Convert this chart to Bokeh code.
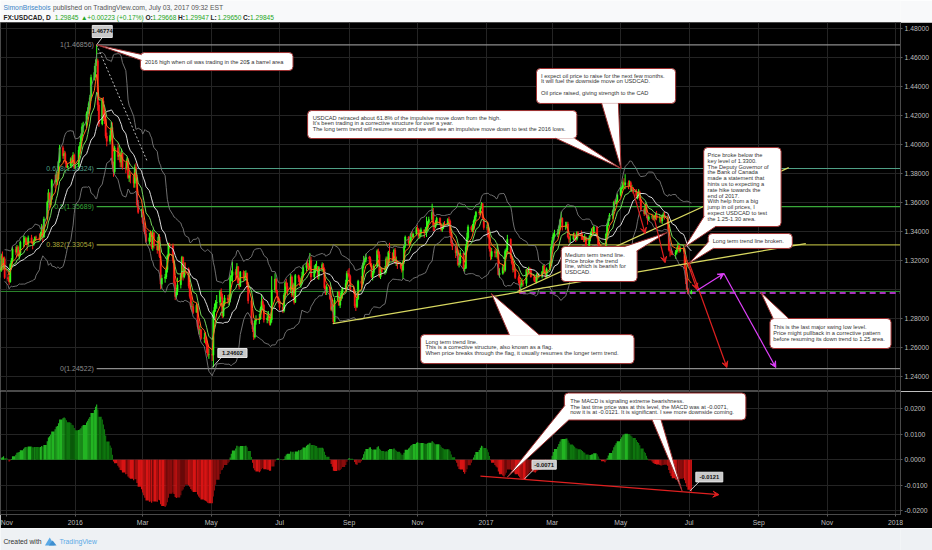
import numpy as np
import pandas as pd
from bokeh.plotting import figure
from bokeh.layouts import column
from bokeh.models import (Range1d, FixedTicker, NumeralTickFormatter, Label,
                          Arrow, VeeHead, ColumnDataSource)
from bokeh.core.properties import value
from bokeh.embed import file_html
from bokeh.resources import INLINE

FONT = "Liberation Sans"

# ---------------- data (FX:USDCAD daily, values are pips: 1 + v/10000) ----------------
first_session = "2015-10-26"
chart_origin = "2016-01-01"

close_2015 = [
    3130, 3230, 3170, 3210, 3080,
    3070, 3050, 3170, 3195, 3275, 3255, 3290, 3230, 3245, 3325, 3325, 3350, 3315, 3310, 3355,
    3325, 3310, 3335, 3360, 3355, 3350,
    3375, 3430, 3360, 3485, 3600, 3665, 3580, 3620, 3750, 3740, 3790, 3760, 3880, 3975,
    3920, 3935, 3880, 3845, 3850, 3900, 3870, 3925, 3840,
]
high_2015 = [
    3155, 3245, 3260, 3220, 3225,
    3105, 3090, 3180, 3215, 3290, 3295, 3305, 3300, 3270, 3335, 3370, 3365, 3360, 3330, 3370,
    3375, 3330, 3345, 3365, 3370, 3385,
    3395, 3450, 3440, 3500, 3610, 3690, 3665, 3640, 3760, 3790, 3815, 3810, 3890, 3995,
    3990, 3955, 3950, 3885, 3865, 3910, 3920, 3945, 3935,
]
low_2015 = [
    3080, 3120, 3130, 3135, 3070,
    3055, 3030, 3045, 3140, 3185, 3235, 3240, 3220, 3205, 3230, 3290, 3310, 3305, 3265, 3300,
    3315, 3275, 3300, 3330, 3335, 3335,
    3340, 3360, 3325, 3355, 3475, 3595, 3560, 3565, 3615, 3700, 3720, 3720, 3750, 3870,
    3900, 3895, 3865, 3835, 3835, 3835, 3860, 3850, 3830,
]

close_2016 = [
    # Jan
    3845, 3960, 3990, 4055, 4120, 4130, 4210, 4230, 4280, 4320, 4460,
    4495, 4560, 4575, 4270, 4140, 4300, 4185, 4175, 4055, 4020,
    # Feb
    4060, 4115, 3860, 3810, 3975, 3915, 3925, 3875, 3940, 3840,
    3835, 3895, 3770, 3785, 3780, 3730, 3840, 3770, 3580, 3530, 3530,
    # Mar
    3460, 3430, 3380, 3330, 3355, 3385, 3290, 3390, 3300, 3270, 3360, 3225,
    3035, 3075, 3085, 3135, 3230, 3310, 3300, 3195, 3045, 2950, 2985,
    # Apr
    3030, 3095, 3220, 3085, 3150, 3140, 3020, 2950, 2880, 2880, 2840,
    2890, 2740, 2720, 2720, 2660, 2665, 2645, 2610, 2550, 2550,
    # May
    2545, 2845, 2875, 2905, 2910, 2985, 2950, 2815, 2900, 2940, 2925,
    2930, 3085, 3095, 3120, 3100, 3155, 3045, 3020, 3120, 3080, 3090,
    # Jun
    3110, 3035, 2920, 2765, 2725, 2670, 2780, 2790, 2795, 2865, 2915,
    2890, 2790, 2800, 2810, 2765, 2790, 2995, 3070, 2985, 2940, 2920,
    # Jul
    2875, 2850, 2960, 3045, 3020, 2995, 3085, 2960, 3030, 2910, 3095,
    3075, 3030, 3060, 3090, 3150, 3175, 3160, 3155, 3200, 3085,
    # Aug
    3140, 3140, 3155, 3090, 3150, 3170, 3140, 3010, 2980, 3015, 2935, 2860,
    2880, 2775, 2925, 2980, 2890, 2940, 2975, 3005, 3040, 3110, 3105,
    # Sep
    3090, 2995, 2985, 2885, 2880, 2935, 3055, 3040, 3165, 3190, 3205,
    3220, 3210, 3165, 3085, 3115, 3160, 3265, 3240, 3085, 3135, 3120,
    # Oct
    3125, 3210, 3160, 3255, 3250, 3195, 3270, 3180, 3180, 3170, 3150,
    3130, 3190, 3300, 3360, 3320, 3330, 3380, 3360, 3380, 3420,
    # Nov
    3410, 3365, 3385, 3410, 3390, 3410, 3420, 3460, 3480, 3530, 3440,
    3430, 3450, 3490, 3450, 3410, 3420, 3450, 3445, 3480, 3470, 3390,
    # Dec
    3320, 3295, 3250, 3265, 3170, 3180, 3250, 3140, 3145, 3290, 3355,
    3430, 3410, 3420, 3470, 3500, 3530, 3525, 3560, 3590, 3490, 3425,
]
high_2016 = [
    3860, 3985, 4015, 4075, 4145, 4155, 4225, 4255, 4295, 4340, 4480,
    4540, 4585, 4686, 4590, 4290, 4320, 4325, 4225, 4200, 4080,
    4095, 4150, 4150, 3880, 3990, 4005, 3990, 3950, 3970, 3935,
    3870, 3910, 3905, 3815, 3800, 3790, 3860, 3870, 3790, 3615, 3555,
    3550, 3490, 3455, 3410, 3390, 3405, 3400, 3410, 3385, 3300, 3375, 3380,
    3235, 3100, 3105, 3155, 3240, 3320, 3320, 3315, 3200, 3055, 3010,
    3080, 3110, 3230, 3225, 3185, 3185, 3150, 3045, 2985, 2915, 2900,
    2905, 2900, 2785, 2750, 2725, 2700, 2705, 2670, 2630, 2590,
    2585, 2855, 2900, 2925, 2960, 2995, 3005, 2970, 2920, 2960, 2960,
    2965, 3095, 3130, 3190, 3140, 3180, 3160, 3080, 3125, 3130, 3125,
    3130, 3115, 3050, 2940, 2785, 2735, 2790, 2820, 2830, 2880, 2965,
    2935, 2900, 2835, 2850, 2820, 2810, 3090, 3110, 3075, 2995, 2950,
    2935, 2905, 2975, 3055, 3070, 3045, 3105, 3095, 3045, 3040, 3105,
    3100, 3085, 3075, 3120, 3165, 3190, 3205, 3180, 3250, 3225,
    3165, 3175, 3195, 3160, 3160, 3185, 3180, 3150, 3025, 3035, 3030, 2945,
    2900, 2890, 2940, 2985, 2990, 2960, 2990, 3015, 3065, 3125, 3135,
    3145, 3100, 3020, 2990, 2900, 2950, 3065, 3090, 3180, 3230, 3215,
    3245, 3230, 3225, 3180, 3125, 3175, 3275, 3280, 3260, 3145, 3150,
    3160, 3225, 3225, 3265, 3320, 3255, 3280, 3285, 3225, 3200, 3180,
    3165, 3200, 3310, 3370, 3365, 3350, 3390, 3400, 3390, 3430,
    3440, 3420, 3410, 3425, 3410, 3430, 3500, 3470, 3500, 3590, 3560,
    3460, 3475, 3500, 3495, 3455, 3435, 3460, 3470, 3490, 3500, 3480,
    3390, 3340, 3300, 3280, 3275, 3220, 3270, 3245, 3170, 3310, 3390,
    3445, 3440, 3450, 3480, 3510, 3540, 3545, 3565, 3600, 3595, 3495,
]
low_2016 = [
    3830, 3840, 3930, 3965, 4025, 4080, 4110, 4170, 4205, 4240, 4300,
    4440, 4460, 4540, 4230, 4120, 4130, 4160, 4140, 4040, 3985,
    4000, 4030, 3830, 3775, 3795, 3890, 3890, 3840, 3840, 3825,
    3800, 3820, 3760, 3740, 3730, 3700, 3700, 3745, 3565, 3520, 3495,
    3450, 3395, 3380, 3320, 3310, 3325, 3275, 3265, 3280, 3245, 3265, 3215,
    3000, 3005, 3045, 3070, 3115, 3215, 3280, 3180, 3035, 2925, 2935,
    2960, 3005, 3075, 3060, 3075, 3095, 3005, 2935, 2860, 2845, 2830,
    2840, 2730, 2690, 2685, 2650, 2630, 2620, 2560, 2535, 2520,
    2505, 2461, 2800, 2845, 2865, 2890, 2930, 2800, 2805, 2885, 2900,
    2890, 2910, 3055, 3050, 3060, 3080, 3040, 3000, 3015, 3055, 3060,
    3060, 3005, 2900, 2755, 2705, 2650, 2660, 2755, 2760, 2790, 2860,
    2870, 2770, 2765, 2780, 2750, 2750, 2770, 2975, 2970, 2910, 2900,
    2855, 2835, 2840, 2945, 2985, 2960, 2975, 2945, 2950, 2895, 2905,
    3050, 3020, 3010, 3040, 3080, 3125, 3140, 3130, 3130, 3055,
    3065, 3110, 3125, 3070, 3065, 3120, 3115, 3000, 2960, 2960, 2925, 2850,
    2845, 2760, 2770, 2915, 2885, 2870, 2920, 2935, 2990, 3025, 3080,
    3070, 2985, 2970, 2870, 2850, 2870, 2925, 3010, 3030, 3145, 3170,
    3185, 3180, 3155, 3075, 3060, 3100, 3150, 3215, 3080, 3070, 3095,
    3100, 3110, 3145, 3160, 3185, 3190, 3190, 3175, 3160, 3140, 3140,
    3115, 3070, 3175, 3285, 3305, 3300, 3315, 3350, 3350, 3370,
    3395, 3350, 3350, 3365, 3355, 3385, 3360, 3400, 3450, 3470, 3400,
    3400, 3420, 3440, 3440, 3400, 3395, 3415, 3430, 3445, 3440, 3370,
    3300, 3270, 3215, 3230, 3160, 3150, 3170, 3125, 3120, 3140, 3275,
    3340, 3395, 3395, 3410, 3460, 3475, 3510, 3515, 3555, 3480, 3410,
]

close_2017 = [
    # Jan
    3425, 3360, 3280, 3225, 3260, 3250, 3250, 3260, 3100, 3110, 3150,
    3130, 3260, 3270, 3345, 3220, 3180, 3135, 3135, 3080, 3060, 3030,
    # Feb
    3030, 3045, 3040, 3135, 3120, 3140, 3130, 3085, 3060, 3050,
    3100, 3090, 3090, 3120, 3160, 3120, 3085, 3140, 3180, 3290,
    # Mar
    3335, 3375, 3380, 3390, 3430, 3475, 3490, 3430, 3440, 3450, 3360, 3345,
    3345, 3370, 3355, 3345, 3390, 3380, 3365, 3355, 3340, 3360, 3300,
    # Apr
    3350, 3370, 3400, 3390, 3430, 3360, 3280, 3260, 3280, 3270,
    3280, 3380, 3445, 3480, 3510, 3540, 3600, 3590, 3610, 3650,
    # May
    3690, 3700, 3735, 3720, 3735, 3710, 3735, 3685, 3700, 3675, 3645, 3645,
    3670, 3620, 3550, 3520, 3580, 3510, 3480, 3500, 3500, 3480, 3500,
    # Jun
    3510, 3490, 3490, 3470, 3505, 3515, 3500, 3445, 3270, 3265, 3250,
    3240, 3255, 3265, 3300, 3265, 3285, 3280, 3145, 3070, 3000, 2970,
    # Jul 3
    2985,
]
high_2017 = [
    3445, 3460, 3370, 3290, 3285, 3275, 3275, 3300, 3275, 3145, 3170,
    3170, 3275, 3285, 3375, 3350, 3230, 3200, 3175, 3145, 3095, 3085,
    3065, 3075, 3060, 3140, 3145, 3155, 3150, 3145, 3100, 3085,
    3110, 3115, 3110, 3125, 3170, 3170, 3130, 3150, 3195, 3300,
    3360, 3390, 3410, 3415, 3440, 3485, 3535, 3495, 3465, 3465, 3465, 3370,
    3375, 3390, 3390, 3380, 3400, 3400, 3405, 3385, 3365, 3380, 3365,
    3370, 3395, 3420, 3430, 3440, 3435, 3365, 3320, 3300, 3295,
    3290, 3390, 3460, 3490, 3525, 3550, 3610, 3620, 3615, 3660,
    3705, 3715, 3750, 3765, 3793, 3750, 3750, 3745, 3720, 3705, 3690, 3670,
    3690, 3680, 3625, 3560, 3595, 3590, 3515, 3515, 3520, 3515, 3510,
    3525, 3540, 3515, 3500, 3515, 3530, 3535, 3510, 3450, 3290, 3280,
    3265, 3270, 3290, 3320, 3305, 3295, 3290, 3280, 3150, 3080, 3010,
    2995,
]
low_2017 = [
    3410, 3350, 3260, 3200, 3205, 3220, 3220, 3210, 3095, 3080, 3100,
    3110, 3120, 3230, 3255, 3210, 3170, 3115, 3120, 3070, 3040, 2969,
    2990, 3015, 3020, 3020, 3095, 3110, 3100, 3080, 3050, 3040,
    3040, 3065, 3075, 3075, 3110, 3110, 3080, 3080, 3130, 3160,
    3290, 3330, 3355, 3360, 3380, 3420, 3460, 3405, 3410, 3420, 3350, 3320,
    3320, 3335, 3340, 3325, 3335, 3355, 3340, 3340, 3325, 3325, 3290,
    3295, 3330, 3360, 3375, 3375, 3350, 3270, 3240, 3250, 3260,
    3260, 3270, 3370, 3435, 3470, 3485, 3540, 3585, 3585, 3600,
    3640, 3665, 3690, 3690, 3690, 3690, 3705, 3675, 3670, 3660, 3630, 3620,
    3630, 3610, 3535, 3505, 3515, 3490, 3445, 3470, 3485, 3475, 3470,
    3480, 3475, 3460, 3455, 3450, 3490, 3480, 3410, 3260, 3225, 3235,
    3235, 3210, 3240, 3260, 3250, 3255, 3260, 3140, 3035, 2995, 2965,
    2965,
]

fib_levels = [1.46856, 1.38324, 1.35689, 1.33054, 1.24522]
fib_names = ["1(1.46856)", "0.618(1.38324)", "0.5(1.35689)", "0.382(1.33054)", "0(1.24522)"]
last_price = 1.29845
swing_low = 1.29734
price_ticks = [1.24, 1.26, 1.28, 1.30, 1.32, 1.34, 1.36, 1.38, 1.40, 1.42, 1.44, 1.46, 1.48]
hidden_price_ticks = [1.30]
macd_ticks = [-0.02, -0.01, 0.0, 0.01, 0.02]
month_tick_dates = ["2015-11-01", "2016-01-01", "2016-03-01", "2016-05-01", "2016-07-01",
                    "2016-09-01", "2016-11-01", "2017-01-01", "2017-03-01", "2017-05-01",
                    "2017-07-01", "2017-09-01", "2017-11-01", "2018-01-01"]
month_tick_labels = ["Nov", "2016", "Mar", "May", "Jul", "Sep", "Nov", "2017",
                     "Mar", "May", "Jul", "Sep", "Nov", "2018"]

# ---------------- derived series ----------------
c_all = close_2015 + close_2016 + close_2017
h_all = high_2015 + high_2016 + high_2017
l_all = low_2015 + low_2016 + low_2017
n = min(len(c_all), len(h_all), len(l_all))
close = 1.0 + np.asarray(c_all[:n], dtype=float) / 10000.0
high = 1.0 + np.asarray(h_all[:n], dtype=float) / 10000.0
low = 1.0 + np.asarray(l_all[:n], dtype=float) / 10000.0
open_ = np.concatenate([[close[0]], close[:-1]])
high = np.maximum(high, np.maximum(open_, close))
low = np.minimum(low, np.minimum(open_, close))

origin = pd.Timestamp(chart_origin)
dates = pd.bdate_range(first_session, periods=n)
x = np.asarray((dates - origin).days, dtype=float)

s = pd.Series(close)
ema_fast = s.ewm(span=5, adjust=False).mean().values
ema_mid = s.ewm(span=10, adjust=False).mean().values
sma20 = s.rolling(20, min_periods=5).mean()
sd20 = s.rolling(20, min_periods=5).std(ddof=0)
bb_up = (sma20 + 2 * sd20).values
bb_dn = (sma20 - 2 * sd20).values
macd = (s.ewm(span=12, adjust=False).mean() - s.ewm(span=26, adjust=False).mean()).values

tick_days = [int((pd.Timestamp(d) - origin).days) for d in month_tick_dates]

# ---------------- styling helpers ----------------
W = 932
X0, X1 = -66.7, 735.4
BORDER = "#9e3030"
GRID = "#242424"
AXIS_TXT = "#bdbdbd"
UP, DOWN = "#33ff1a", "#ff1a1a"

xr = Range1d(X0, X1)


def style_fig(p):
    p.grid.grid_line_color = GRID
    p.yaxis.major_label_text_font = FONT
    p.yaxis.major_label_text_font_size = "6.8px"
    p.yaxis.major_label_text_color = AXIS_TXT
    p.yaxis.axis_line_color = "#4a4a4a"
    p.yaxis.major_tick_line_color = "#5a5a5a"
    p.yaxis.major_tick_out = 2
    p.yaxis.major_tick_in = 0
    p.yaxis.minor_tick_line_color = None
    p.yaxis.major_label_standoff = 2


def callout(fig, box, lines, text_x, dy0, dy, pointers, size="5.7px"):
    left, right, top, bottom = box
    fig.quad(left=[left], right=[right], top=[top], bottom=[bottom], fill_color="white",
             line_color=BORDER, line_width=1, border_radius=4)
    for (bx1, by1, bx2, by2, tx, ty) in pointers:
        fig.patch([bx1, bx2, tx], [by1, by2, ty], fill_color="white", line_color=None)
        fig.line([bx1, tx, bx2], [by1, ty, by2], line_color=BORDER, line_width=1)
    k = len(lines)
    src = ColumnDataSource(dict(x=[text_x] * k, y=[top] * k,
                                yo=[dy0 + i * dy for i in range(k)], t=lines))
    fig.text(x="x", y="y", text="t", y_offset="yo", source=src, text_font=value(FONT),
             text_font_size=value(size), text_color="#333333", text_baseline="middle",
             text_align="left")


def tag(fig, box, label, anchor, tip):
    left, right, top, bottom = box
    fig.segment(x0=[anchor[0]], y0=[anchor[1]], x1=[tip[0]], y1=[tip[1]],
                line_color="#cfcfcf", line_width=1)
    fig.quad(left=[left], right=[right], top=[top], bottom=[bottom], fill_color="#c9c9c9",
             line_color="#e6e6e6", line_width=1)
    fig.text(x=[(left + right) / 2], y=[(top + bottom) / 2], text=[label],
             text_font=value(FONT), text_font_size=value("5.8px"), text_font_style="bold",
             text_color="#111111", text_align="center", text_baseline="middle")


def arrow(fig, x0, y0, x1, y1, color, width=1.2):
    fig.add_layout(Arrow(end=VeeHead(size=6, line_color=color, fill_color=color, line_width=1),
                         x_start=x0, y_start=y0, x_end=x1, y_end=y1,
                         line_color=color, line_width=width))


def text_width(txt, size, bold=False):
    w = 0.0
    for ch in txt:
        if ch.isdigit():
            w += 0.556
        elif ch.isupper():
            w += 0.68
        elif ch in " .,:;":
            w += 0.278
        elif ch in "()":
            w += 0.333
        elif ch == "%":
            w += 0.889
        elif ch in "+\u25b2":
            w += 0.6
        elif ch in "iljt":
            w += 0.26
        elif ch in "mw":
            w += 0.8
        else:
            w += 0.53
    return w * size * (1.08 if bold else 1.0)


# ---------------- header ----------------
hdr = figure(width=W, height=22, x_range=(0, W), y_range=(0, 22), x_axis_location=None,
             y_axis_location=None, toolbar_location=None, output_backend="svg", min_border=0,
             outline_line_color=None, background_fill_color="#f8f9fa",
             border_fill_color="#f8f9fa")
hdr.grid.visible = False
GTXT = "#25a525"
DARK = "#222222"
header_rows = [
    (15, 6.8, [("SimonBrisebois", "#3d85c6", "normal", 2),
               ("published on TradingView.com, July 03, 2017 09:32 EST", "#555555", "normal", 0)]),
    (5, 6.6, [("FX:USDCAD, D", DARK, "bold", 3), ("1.29845", GTXT, "normal", 3),
              ("\u25b2", GTXT, "normal", 2), ("+0.00223 (+0.17%)", GTXT, "normal", 3),
              ("O:", DARK, "bold", 0), ("1.29668", GTXT, "normal", 2),
              ("H:", DARK, "bold", 0), ("1.29947", GTXT, "normal", 2),
              ("L:", DARK, "bold", 0), ("1.29650", GTXT, "normal", 2),
              ("C:", DARK, "bold", 0), ("1.29845", GTXT, "normal", 0)]),
]
hx, hy, ht, hc, hs, hf = [], [], [], [], [], []
for (yy, fs, segs) in header_rows:
    cx = 3.0
    for (txt, colr, sty, gap) in segs:
        hx.append(cx); hy.append(yy); ht.append(txt); hc.append(colr); hs.append(sty)
        hf.append("%.1fpx" % fs)
        cx += text_width(txt, fs, sty == "bold") + gap + 0.5
hdr.text(x=hx, y=hy, text=ht, text_color=hc, text_font_style=hs, text_font_size=hf,
         text_font=value(FONT), text_baseline="middle")

# ---------------- price pane ----------------
price = figure(width=W, height=369, x_range=xr, y_range=Range1d(1.22945, 1.48393),
               x_axis_location=None, y_axis_location="right", toolbar_location=None,
               output_backend="svg", background_fill_color="black", border_fill_color="black",
               min_border_left=0, min_border_top=0, min_border_bottom=0, min_border_right=30,
               outline_line_color="#4a4a4a")
style_fig(price)
price.xgrid.ticker = FixedTicker(ticks=tick_days)
price.ygrid.ticker = FixedTicker(ticks=price_ticks)
price.yaxis.ticker = FixedTicker(ticks=[t for t in price_ticks if t not in hidden_price_ticks],
                                 minor_ticks=[])
price.yaxis.formatter = NumeralTickFormatter(format="0.00000")

# fibonacci retracement levels
fib_colors = ["#8c8c8c", "#4f9f86", "#3aa83a", "#a9a93a", "#8c8c8c"]
peak_day = float((pd.Timestamp("2016-01-20") - origin).days)
price.segment(x0=[peak_day] * 5, y0=fib_levels, x1=[X1] * 5, y1=fib_levels,
              line_color=fib_colors, line_width=1.2)
price.text(x=[peak_day - 2.5] * 5, y=fib_levels, text=fib_names, text_color=fib_colors,
           text_font=value(FONT), text_font_size=value("7px"), text_align="right",
           text_baseline="middle")

# last price line + swing low dashed line
price.segment(x0=[X0], y0=[last_price], x1=[X1], y1=[last_price], line_color="#2d8a2d",
              line_width=1)
swing_day = float((pd.Timestamp("2017-01-31") - origin).days)
price.segment(x0=[swing_day], y0=[swing_low], x1=[X1], y1=[swing_low], line_color="#e040fb",
              line_width=1.6, line_dash="6 4")

# candles
csrc = ColumnDataSource(dict(x=x, h=high, l=low, top=np.maximum(open_, close),
                             bot=np.minimum(open_, close),
                             col=np.where(close >= open_, UP, DOWN)))
price.segment(x0="x", y0="l", x1="x", y1="h", source=csrc, line_color="col", line_width=1)
price.vbar(x="x", width=1.25, top="top", bottom="bot", source=csrc, fill_color="col",
           line_color="col", line_width=0.4)

# indicators
price.line(x, bb_up, line_color="#7a7a7a", line_width=0.9)
price.line(x, bb_dn, line_color="#7a7a7a", line_width=0.9)
price.line(x, sma20.values, line_color="#dcdcdc", line_width=1)
price.line(x, ema_mid, line_color="#73d65a", line_width=1)
price.line(x, ema_fast, line_color="#ff6a1a", line_width=1)

# dotted line from the 2016 high
price.line([peak_day, 64], [1.46856, 1.3883], line_color="#bbbbbb", line_width=1,
           line_dash="2 2")

# trend lines
price.line([229.4, 651], [1.2763, 1.3315], line_color="#d8d860", line_width=1.3)
price.line([393.9, 635.8], [1.2984, 1.3839], line_color="#d8d860", line_width=1.3)

# projection arrows
for (a, b, c, d) in [(496.2, 1.3701, 507.8, 1.3383), (515.8, 1.3494, 525.6, 1.3183),
                     (542.5, 1.3253, 554, 1.2998), (546.9, 1.3184, 580.7, 1.2460)]:
    arrow(price, a, b, c, d, "#e02020")
for (a, b, c, d) in [(554, 1.2991, 578, 1.3108), (578, 1.3108, 624.3, 1.2460)]:
    arrow(price, a, b, c, d, "#e040fb")

# price tags for the extremes
tag(price, (15.1, 32.9, 1.4819, 1.4736), "1.46774", (24, 1.4736), (peak_day, 1.46856))
tag(price, (127, 153, 1.2591, 1.2529), "1.24602", (130, 1.2529), (122, 1.2460))

# callouts
callout(price, (58, 194, 1.4632, 1.4508),
        ["2016 high when oil was trading in the 20$ a barrel area"], 62, 9, 0,
        [(59, 1.4619, 59, 1.4578, peak_day, 1.46856)])
callout(price, (207, 447, 1.4232, 1.4039),
        ["USDCAD retraced about 61.8% of the impulsive move down from the high.",
         "It's been trading in a corrective structure for over a year.",
         "The long term trend will resume soon and we will see an impulsive move down to test the 2016 lows."],
        211.5, 7, 5.6, [(428, 1.4041, 445, 1.4041, 486.4, 1.3832)])
callout(price, (411, 535, 1.4522, 1.4281),
        ["I expect oil price to raise for the next few months.",
         "It will fuel the downside move on USDCAD.", "",
         "Oil price raised, giving strength to the CAD"],
        415, 7, 5.7, [(469, 1.4283, 484, 1.4283, 486.4, 1.3832)])
callout(price, (560, 629, 1.3977, 1.3432),
        ["Price broke below the", "key level of 1.3300.", "The Deputy Governor of",
         "the Bank of Canada", "made a statement that", "hints us to expecting a",
         "rate hike towards the", "end of 2017.", "With help from a big",
         "jump in oil prices, I", "expect USDCAD to test", "the 1.25-1.30 area."],
        563.5, 7.5, 5.8, [(560.6, 1.3505, 571, 1.3434, 543, 1.3289)])
callout(price, (564, 639, 1.3384, 1.3281), ["Long term trend line broken."], 568, 7.5, 0,
        [(564.6, 1.3330, 569, 1.3283, 547, 1.3178)])
callout(price, (433, 500.7, 1.3295, 1.3053),
        ["Medium term trend line.", "Price broke the trend", "line, which is bearish for",
         "USDCAD."],
        436.5, 8.5, 5.7, [(489, 1.3293, 500.1, 1.3262, 527.4, 1.3391)])
callout(price, (307.7, 498, 1.2687, 1.2487),
        ["Long term trend line.", "This is a corrective structure, also known as a flag.",
         "When price breaks through the flag, it usually resumes the longer term trend."],
        312, 7, 5.6, [(386.8, 1.2685, 413.5, 1.2685, 370.8, 1.2970)])
callout(price, (619, 727, 1.2798, 1.2591),
        ["This is the last major swing low level.",
         "Price might pullback in a corrective pattern",
         "before resuming its down trend to 1.25 area."],
        622, 8.5, 6.2, [(622, 1.2796, 636, 1.2796, 611, 1.2977)])

# right-axis price tags
price.add_layout(Label(x=X1, y=last_price, x_offset=1, text="1.29845", text_font=FONT,
                       text_font_size="6.8px", text_color="white", text_baseline="middle",
                       background_fill_color="#21b021"))
price.add_layout(Label(x=X1, y=swing_low, x_offset=1, y_offset=-6, text="1.29734",
                       text_font=FONT, text_font_size="6.8px", text_color="white",
                       text_baseline="middle", background_fill_color="#e040fb"))

# ---------------- MACD pane ----------------
macdf = figure(width=W, height=137, x_range=xr, y_range=Range1d(-0.0215, 0.0268),
               y_axis_location="right", toolbar_location=None, output_backend="svg",
               background_fill_color="black", border_fill_color="black",
               min_border_left=0, min_border_top=0, min_border_bottom=0, min_border_right=30,
               outline_line_color="#4a4a4a")
style_fig(macdf)
macdf.xgrid.ticker = FixedTicker(ticks=tick_days)
macdf.ygrid.ticker = FixedTicker(ticks=macd_ticks)
macdf.yaxis.ticker = FixedTicker(ticks=macd_ticks, minor_ticks=[])
macdf.yaxis.formatter = NumeralTickFormatter(format="0.0000")
macdf.xaxis.ticker = FixedTicker(ticks=tick_days, minor_ticks=[])
macdf.xaxis.major_label_overrides = dict(zip(tick_days, month_tick_labels))
macdf.xaxis.major_label_text_font = FONT
macdf.xaxis.major_label_text_font_size = "6.8px"
macdf.xaxis.major_label_text_color = AXIS_TXT
macdf.xaxis.axis_line_color = "#4a4a4a"
macdf.xaxis.major_tick_line_color = "#5a5a5a"
macdf.xaxis.major_tick_out = 2
macdf.xaxis.major_tick_in = 0
macdf.xaxis.minor_tick_line_color = None
macdf.xaxis.major_label_standoff = 2

dm = np.diff(macd, prepend=macd[0])
mcol = np.where(macd >= 0, np.where(dm >= 0, "#22b422", "#0e760e"),
                np.where(dm <= 0, "#d81414", "#8a0c0c"))
x_next = np.append(x[1:], x[-1] + 1)
msrc = ColumnDataSource(dict(l=x - 0.5, r=x_next - 0.5, t=macd, b=np.zeros(n), c=mcol))
macdf.quad(left="l", right="r", top="t", bottom="b", source=msrc, fill_color="c",
           line_color=None)

tag(macdf, (407, 428.6, -0.0002, -0.0037), "-0.0071", (409, -0.0037), (400, -0.0076))
tag(macdf, (553, 577, -0.0049, -0.0087), "-0.0121", (555.8, -0.0087), (547.8, -0.0122))
arrow(macdf, 361, -0.0064, 573.6, -0.0137, "#e02020")
callout(macdf, (435.8, 597.6, 0.0262, 0.0156),
        ["The MACD is signaling extreme bearishness.",
         "The last time price was at this level, the MACD was at -0.0071,",
         "now it is at -0.0121. It is significant. I see more downside coming."],
        441, 8, 5.6,
        [(436.4, 0.0214, 440, 0.0157, 385, -0.0068), (514, 0.0157, 522, 0.0157, 540.7, -0.0122)])

# ---------------- footer ----------------
ftr = figure(width=W, height=22, x_range=(0, W), y_range=(0, 22), x_axis_location=None,
             y_axis_location=None, toolbar_location=None, output_backend="svg", min_border=0,
             outline_line_color=None, background_fill_color="#eef1f4",
             border_fill_color="#eef1f4")
ftr.grid.visible = False
ftr.patch([46, 51, 56], [5, 13, 5], fill_color="#5aa9e6", line_color=None)
ftr.patch([50, 54, 58], [5, 10, 5], fill_color="#3f8fd0", line_color=None)
ftr.text(x=[3, 61], y=[9, 9], text=["Created with", "TradingView"],
         text_color=["#333333", "#5aa9e6"], text_font=value(FONT),
         text_font_size=value("6.8px"), text_baseline="middle")

layout = column(hdr, price, macdf, ftr, spacing=0)
open("out.html", "w").write(file_html(layout, INLINE))
